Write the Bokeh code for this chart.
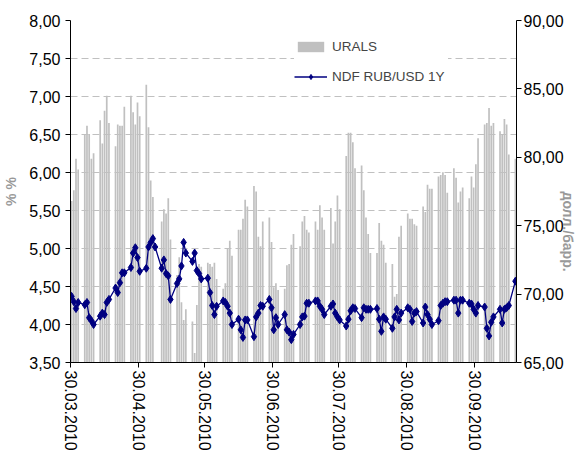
import numpy as np
import pandas as pd
from bokeh.plotting import figure
from bokeh.models import (Range1d, LinearAxis, FixedTicker, CustomJSTickFormatter,
                          DatetimeTickFormatter, Legend, LegendItem, ColumnDataSource)
from bokeh.embed import file_html
from bokeh.resources import INLINE

# trading days 30.03.2010 - 18.10.2010
dates = pd.bdate_range("2010-03-30", "2010-10-18")

# URALS, USD/bbl (right axis)
urals = [
    76.8, 77.6, 79.9, 79.1,
    81.7, 82.3, 81.7, 79.9, 80.3,
    82.7, 81.0, 83.4, 84.5, 82.5,
    80.8, 82.4, 82.3, 82.3, 83.7,
    84.5, 83.3, 82.4, 84.0, 83.0,
    85.3, 82.2, 78.3, 77.1, None,
    75.3, 76.2, 75.9, 77.0, 74.0,
    71.4, 72.7, 69.4, 68.1, 68.9,
    68.0, 65.7, 69.2, 72.2, 72.0,
    72.3, 72.2, 72.0, 72.3, 71.1,
    70.4, 70.8, 73.3, 73.9, 72.8,
    74.7, 74.7, 75.5, 76.9, 76.4,
    77.9, 77.5, 74.2, 73.5, 75.3,
    75.6, 73.8, 70.5, 70.8, 70.3,
    70.4, 72.1, 72.2, 73.6, 74.4,
    73.5, 75.3, 75.7, 74.7, 74.5,
    75.3, 74.7, 76.5, 75.6, 74.7,
    76.3, 73.7, 75.3, 77.2, 76.2,
    80.1, 81.8, 81.8, 81.1, 79.2,
    79.4, 77.6, 75.6, 74.4, 73.0,
    73.0, 75.2, 73.9, 73.6, 72.3,
    72.2, 69.8, 70.0, 74.2, 75.0,
    75.9, 75.5, 75.5, 75.1, 75.0,
    76.4, 76.0, 78.0, 77.7, 77.7,
    78.6, 78.7, 78.9, 78.7, 77.4,
    79.2, 78.5, 76.7, 77.5, 77.8,
    77.0, 78.6, 77.8, 79.5, 81.4,
    82.4, 82.5, 83.6, 82.3, 82.5,
    81.9, 81.7, 82.8, 82.4, 80.2,
    79.9,
]

# NDF RUB/USD 1Y, % (left axis)
ndf = [
    4.37, 4.30, 4.21, 4.29,
    4.26, 4.29, 4.09, 4.05, 4.00,
    4.11, 4.15, 4.13, 4.29, 4.33,
    4.48, 4.42, 4.55, 4.68, 4.68,
    4.75, 4.94, 5.01, 4.88, 4.70,
    4.74, 5.02, 5.08, 5.13, 5.02,
    4.74, 4.85, 4.67, 4.64, 4.33,
    4.54, 4.60, 4.77, 5.08, 4.94,
    4.83, 4.94, 4.71, 4.67, 4.60,
    4.61, 4.42, 4.25, 4.13, 4.24,
    4.31, 4.29, 4.24, 4.15, 4.00,
    4.07, 3.93, 3.83, 4.06, 4.06,
    3.84, 4.10, 4.15, 4.25, 4.24,
    4.33, 4.22, 3.93, 4.09, 4.00,
    4.13, 3.93, 3.90, 3.80, 3.87,
    4.00, 4.10, 4.11, 4.28, 4.28,
    4.31, 4.31, 4.24, 4.20, 4.13,
    4.24, 4.27, 4.15, 4.10, 4.06,
    3.98, 4.07, 4.18, 4.22, 4.21,
    4.09, 4.22, 4.20, 4.20, 4.20,
    4.21, 4.07, 3.91, 4.10, 4.07,
    3.95, 4.10, 4.20, 4.06, 4.15,
    4.22, 4.20, 4.04, 4.15, 4.17,
    4.02, 4.23, 4.13, 4.07, 4.00,
    4.05, 4.25, 4.28, 4.30, 4.30,
    4.32, 4.32, 4.15, 4.32, 4.32,
    4.28, 4.27, 4.20, 4.15, 4.25,
    4.23, 3.95, 3.85, 4.03, 4.10,
    4.20, 4.02, 4.20, 4.22, 4.25,
    4.57,
]

x_ticks = ["2010-03-30", "2010-04-30", "2010-05-30", "2010-06-30",
           "2010-07-30", "2010-08-30", "2010-09-30"]
left_ticks = [3.5, 4.0, 4.5, 5.0, 5.5, 6.0, 6.5, 7.0, 7.5, 8.0]
right_ticks = [65, 70, 75, 80, 85, 90]

FONT = "Liberation Sans"
DAY = 86400000

src = ColumnDataSource(dict(
    x=dates + pd.Timedelta(hours=12),
    urals=np.array([np.nan if v is None else v for v in urals], dtype=float),
    ndf=np.array(ndf, dtype=float),
))

p = figure(frame_width=446, frame_height=342, x_axis_type="datetime",
           output_backend="svg", toolbar_location=None,
           x_range=Range1d(pd.Timestamp("2010-03-30"), pd.Timestamp("2010-10-19")),
           y_range=Range1d(3.5, 8.0),
           min_border_left=62, min_border_right=63, min_border_top=20, min_border_bottom=88)
p.outline_line_color = None
p.extra_y_ranges = {"urals": Range1d(65, 90)}

bars = p.vbar(x="x", top="urals", bottom=65, width=0.78 * DAY, y_range_name="urals",
              fill_color="#c0c0c0", line_color=None, source=src)
ln = p.line("x", "ndf", color="#000080", line_width=1.3, source=src)
pts = p.scatter("x", "ndf", marker="diamond", size=8, color="#000080", source=src)

# grid
p.xgrid.visible = False
p.ygrid.ticker = FixedTicker(ticks=left_ticks)
p.ygrid.grid_line_color = "#c0c0c0"
p.ygrid.grid_line_dash = "7 4"
p.ygrid.grid_line_width = 1

fmt = CustomJSTickFormatter(code="return tick.toFixed(2).replace('.', ',');")

# left axis
ly = p.yaxis[0]
ly.ticker = FixedTicker(ticks=left_ticks)
ly.formatter = fmt
ly.axis_label = "% %"
ly.axis_label_standoff = 7

# right axis
ry = LinearAxis(y_range_name="urals", ticker=FixedTicker(ticks=right_ticks), formatter=fmt)
ry.axis_label = "долл./барр."
ry.axis_label_standoff = 1
try:
    ry.axis_label_orientation = -np.pi / 2
except Exception:
    pass
p.add_layout(ry, "right")

# bottom axis
bx = p.xaxis[0]
bx.ticker = FixedTicker(ticks=[pd.Timestamp(d).value // 10**6 for d in x_ticks])
f = "%d.%m.%Y"
bx.formatter = DatetimeTickFormatter(milliseconds=f, seconds=f, minsec=f, minutes=f, hourmin=f,
                                     hours=f, days=f, months=f, years=f)
bx.major_label_orientation = "vertical"

for ax in (ly, ry, bx):
    ax.major_label_text_font = FONT
    ax.major_label_text_font_size = "16px"
    ax.major_label_text_color = "#000000"
    ax.major_tick_in = 0
    ax.major_tick_out = 5
    ax.minor_tick_in = 0
    ax.minor_tick_out = 0
    ax.axis_line_color = "#000000"
    ax.major_tick_line_color = "#000000"
    ax.axis_label_text_font = FONT
    ax.axis_label_text_font_style = "bold"
    ax.axis_label_text_font_size = "14px"
    ax.axis_label_text_color = "#999999"
ry.major_label_standoff = 2
bx.major_label_standoff = 3

legend = Legend(items=[LegendItem(label="URALS", renderers=[bars]),
                       LegendItem(label="NDF RUB/USD 1Y", renderers=[ln, pts])],
                location=(224, 276))
legend.background_fill_color = "white"
legend.background_fill_alpha = 1
legend.border_line_color = None
legend.label_text_font = FONT
legend.label_text_font_size = "13.5px"
legend.glyph_width = 33
legend.glyph_height = 13
legend.label_height = 20
legend.label_width = 116
legend.label_standoff = 5
legend.spacing = 10
legend.padding = 8
legend.margin = 0
p.add_layout(legend)

open("out.html", "w").write(file_html(p, INLINE))
